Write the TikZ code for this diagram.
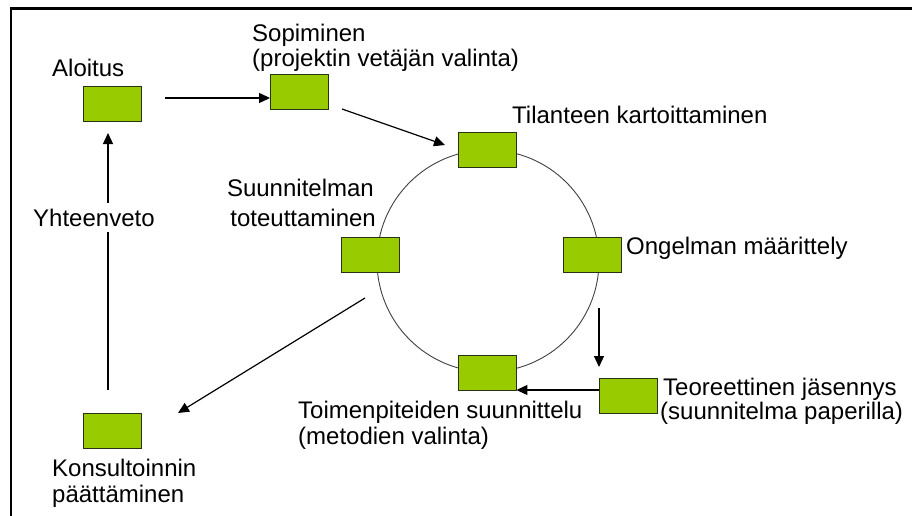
\documentclass[tikz,border=0pt]{standalone}
\usepackage{fontspec}
\setmainfont{Liberation Sans}
\usetikzlibrary{arrows.meta}
\definecolor{boxgreen}{RGB}{153,204,0}
\definecolor{boxedge}{RGB}{40,50,20}
\begin{document}
\begin{tikzpicture}[x=1pt,y=-1pt,
  stage/.style={draw=boxedge, fill=boxgreen, minimum width=58pt, minimum height=35pt,
                inner sep=0pt, line width=0.9pt},
  lbl/.style={anchor=base west, inner sep=0pt, font=\fontsize{24}{28}\selectfont},
  lblr/.style={lbl, anchor=base east},
  flow/.style={line width=1.2pt, -{Triangle[length=11pt,width=10pt]}}]

% canvas and open frame
\useasboundingbox (0,0) rectangle (912,516);
\fill[white] (0,0) rectangle (912,516);
\draw[line width=2.4pt, line join=miter] (11,516) -- (11,8.5) -- (912,8.5);

% cycle ring
\draw[line width=0.9pt, black!75] (488,261) circle[radius=111];

% stages
\node[stage] (aloitus)   at (112.5,103.5) {};
\node[stage] (sopiminen) at (299.5,91.5)  {};
\node[stage] (tilanne)   at (487,150)     {};
\node[stage] (toteutus)  at (370,255)     {};
\node[stage] (ongelma)   at (592,255)     {};
\node[stage] (toimet)    at (487,372.5)   {};
\node[stage] (teoria)    at (628,396)     {};
\node[stage] (lopetus)   at (112.5,430.5) {};

% free ends of the connectors
\coordinate (a1s) at (165,98);
\coordinate (a2s) at (342,109);
\coordinate (a2e) at (445,145);
\coordinate (a3s) at (599,308);
\coordinate (a3e) at (599,367);
\coordinate (a4s) at (599,390);
\coordinate (a5s) at (365,298);
\coordinate (a5e) at (178,413);
\coordinate (a6s) at (108,390);
\coordinate (a6e) at (108,133);

% connectors
\draw[flow] (a1s) -- (sopiminen.west |- a1s);
\draw[flow] (a2s) -- (a2e);
\draw[flow] (a3s) -- (a3e);
\draw[flow] (a4s) -- (toimet.east |- a4s);
\draw[flow] (a5s) -- (a5e);
\draw[flow] (a6s) -- (a6e);

% labels
\node[lbl] (tAloitus) at (52,77) {Aloitus};
\node[lbl] (tSop1) at (252,42) {Sopiminen};
\node[lbl] (tSop2) at (252,67) {(projektin vetäjän valinta)};
\node[lbl] (tTil) at (512,124) {Tilanteen kartoittaminen};
\node[lblr] (tSuu1) at (374,196) {Suunnitelman};
\node[lblr] (tSuu2) at (376,226) {toteuttaminen};
\node[lbl, fill=white, inner ysep=6pt] (tYht) at (33,226) {Yhteenveto};
\node[lbl] (tOng) at (626,254) {Ongelman määrittely};
\node[lbl] (tTeo1) at (663,395) {Teoreettinen jäsennys};
\node[lbl] (tTeo2) at (660,419) {(suunnitelma paperilla)};
\node[lbl] (tToi1) at (298,418) {Toimenpiteiden suunnittelu};
\node[lbl] (tToi2) at (298,444) {(metodien valinta)};
\node[lbl] (tKon1) at (52,476) {Konsultoinnin};
\node[lbl] (tKon2) at (52,502) {päättäminen};
\end{tikzpicture}
\end{document}
